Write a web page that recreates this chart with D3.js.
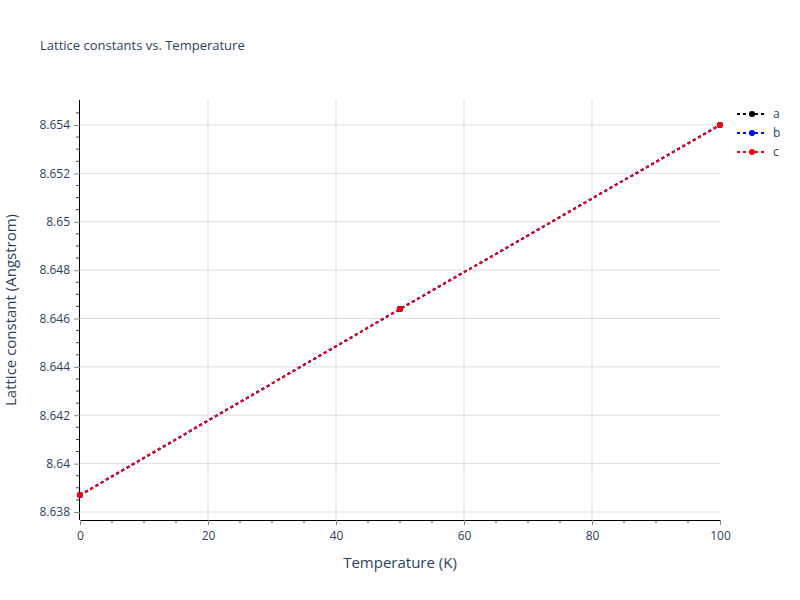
<!DOCTYPE html>
<html>
<head>
<meta charset="utf-8">
<script src="https://cdn.jsdelivr.net/npm/d3@7"></script>
<style>
  body { margin: 0; background: #fff; }
  svg { font-family: "Open Sans", "DejaVu Sans", sans-serif; }
</style>
</head>
<body>
<div id="chart"></div>
<script>
"use strict";

// data
const temperatures = [0, 50, 100];
const seriesNames = ["a", "b", "c"];
const seriesColors = ["#000000", "#0000ff", "#ff0000"];
const aValues = [8.6387, 8.64639, 8.654];
const bValues = [8.6387, 8.64639, 8.654];
const cValues = [8.6387, 8.64639, 8.654];
const xTicks = [0, 20, 40, 60, 80, 100];
const yTicks = [8.638, 8.64, 8.642, 8.644, 8.646, 8.648, 8.65, 8.652, 8.654];

const allValues = [aValues, bValues, cValues];

const W = 800, H = 600;
const margin = { top: 100, right: 80, bottom: 80, left: 80 };
const textColor = "#2a3f5f";

const svg = d3.select("#chart").append("svg")
  .attr("width", W).attr("height", H);

const x = d3.scaleLinear().domain([0, 100]).range([margin.left, W - margin.right]);
const y = d3.scaleLinear().domain([8.637669, 8.655034]).range([H - margin.bottom, margin.top]);

///////////////////////////
// grid
///////////////////////////
svg.append("g").selectAll("line")
  .data(xTicks.slice(1, -1))
  .enter().append("line")
  .attr("x1", d => x(d)).attr("x2", d => x(d))
  .attr("y1", margin.top).attr("y2", H - margin.bottom)
  .attr("stroke", "#dddddd").attr("stroke-width", 1);

svg.append("g").selectAll("line")
  .data(yTicks)
  .enter().append("line")
  .attr("x1", margin.left).attr("x2", W - margin.right)
  .attr("y1", d => y(d)).attr("y2", d => y(d))
  .attr("stroke", "#dddddd").attr("stroke-width", 1);

///////////////////////////
// axes
///////////////////////////
const xMinor = d3.range(0, 101, 5).filter(v => !xTicks.includes(v));
const xAxisG = svg.append("g").attr("transform", `translate(0,${H - margin.bottom})`);
xAxisG.selectAll(".minor").data(xMinor).enter().append("line")
  .attr("x1", d => x(d)).attr("x2", d => x(d))
  .attr("y1", 0).attr("y2", 3).attr("stroke", "#444");
xAxisG.call(d3.axisBottom(x).tickValues(xTicks).tickSize(5).tickPadding(6).tickFormat(d3.format("d")));
xAxisG.select(".domain").attr("stroke", "#000").attr("d", `M${margin.left},0.5H${W - margin.right}`);
xAxisG.selectAll(".tick line").attr("stroke", "#888");
xAxisG.selectAll(".tick text").attr("fill", textColor).attr("font-size", 12)
  .attr("font-family", "'Open Sans', sans-serif");

const yMinor = d3.range(0, 35).map(i => 8.6375 + i * 0.0005)
  .filter(v => v > y.domain()[0] && v < y.domain()[1])
  .filter(v => !yTicks.some(t => Math.abs(t - v) < 1e-7));
const yAxisG = svg.append("g").attr("transform", `translate(${margin.left},0)`);
yAxisG.selectAll(".minor").data(yMinor).enter().append("line")
  .attr("x1", -4).attr("x2", 0)
  .attr("y1", d => y(d)).attr("y2", d => y(d)).attr("stroke", "#444");
yAxisG.call(d3.axisLeft(y).tickValues(yTicks).tickSize(6).tickPadding(4).tickFormat(d => +d.toFixed(3) + ""));
yAxisG.select(".domain").attr("stroke", "#000").attr("d", `M-0.5,${margin.top}V${H - margin.bottom}`);
yAxisG.selectAll(".tick line").attr("stroke", "#888");
yAxisG.selectAll(".tick text").attr("fill", textColor).attr("font-size", 12)
  .attr("font-family", "'Open Sans', sans-serif");

///////////////////////////
// series
///////////////////////////
const line = d3.line().x((d, i) => x(temperatures[i])).y(d => y(d));

seriesNames.forEach((name, k) => {
  const g = svg.append("g");
  g.append("path")
    .datum(allValues[k])
    .attr("d", line)
    .attr("fill", "none")
    .attr("stroke", seriesColors[k])
    .attr("stroke-width", 2)
    .attr("stroke-dasharray", "3,3");
  g.selectAll("circle")
    .data(allValues[k])
    .enter().append("circle")
    .attr("cx", (d, i) => x(temperatures[i]))
    .attr("cy", d => y(d))
    .attr("r", 3)
    .attr("fill", seriesColors[k]);
});

///////////////////////////
// legend
///////////////////////////
const legend = svg.append("g").attr("transform", "translate(737,114)");
seriesNames.forEach((name, k) => {
  const row = legend.append("g").attr("transform", `translate(0,${k * 19})`);
  row.append("line")
    .attr("x1", 0).attr("x2", 30).attr("y1", 0).attr("y2", 0)
    .attr("stroke", seriesColors[k]).attr("stroke-width", 2)
    .attr("stroke-dasharray", "3,3");
  row.append("circle").attr("cx", 15).attr("cy", 0).attr("r", 3).attr("fill", seriesColors[k]);
  row.append("text").attr("x", 36).attr("y", 0).attr("dy", "0.35em")
    .attr("font-size", 12).attr("fill", textColor).text(name);
});

///////////////////////////
// titles
///////////////////////////
svg.append("text")
  .attr("x", 40).attr("y", 50)
  .attr("font-size", 13).attr("fill", textColor)
  .text("Lattice constants vs. Temperature");

svg.append("text")
  .attr("x", (margin.left + W - margin.right) / 2).attr("y", 568)
  .attr("text-anchor", "middle")
  .attr("font-size", 15).attr("fill", textColor)
  .text("Temperature (K)");

svg.append("text")
  .attr("transform", `translate(16,${(margin.top + H - margin.bottom) / 2}) rotate(-90)`)
  .attr("text-anchor", "middle")
  .attr("font-size", 15).attr("fill", textColor)
  .text("Lattice constant (Angstrom)");
</script>
</body>
</html>
